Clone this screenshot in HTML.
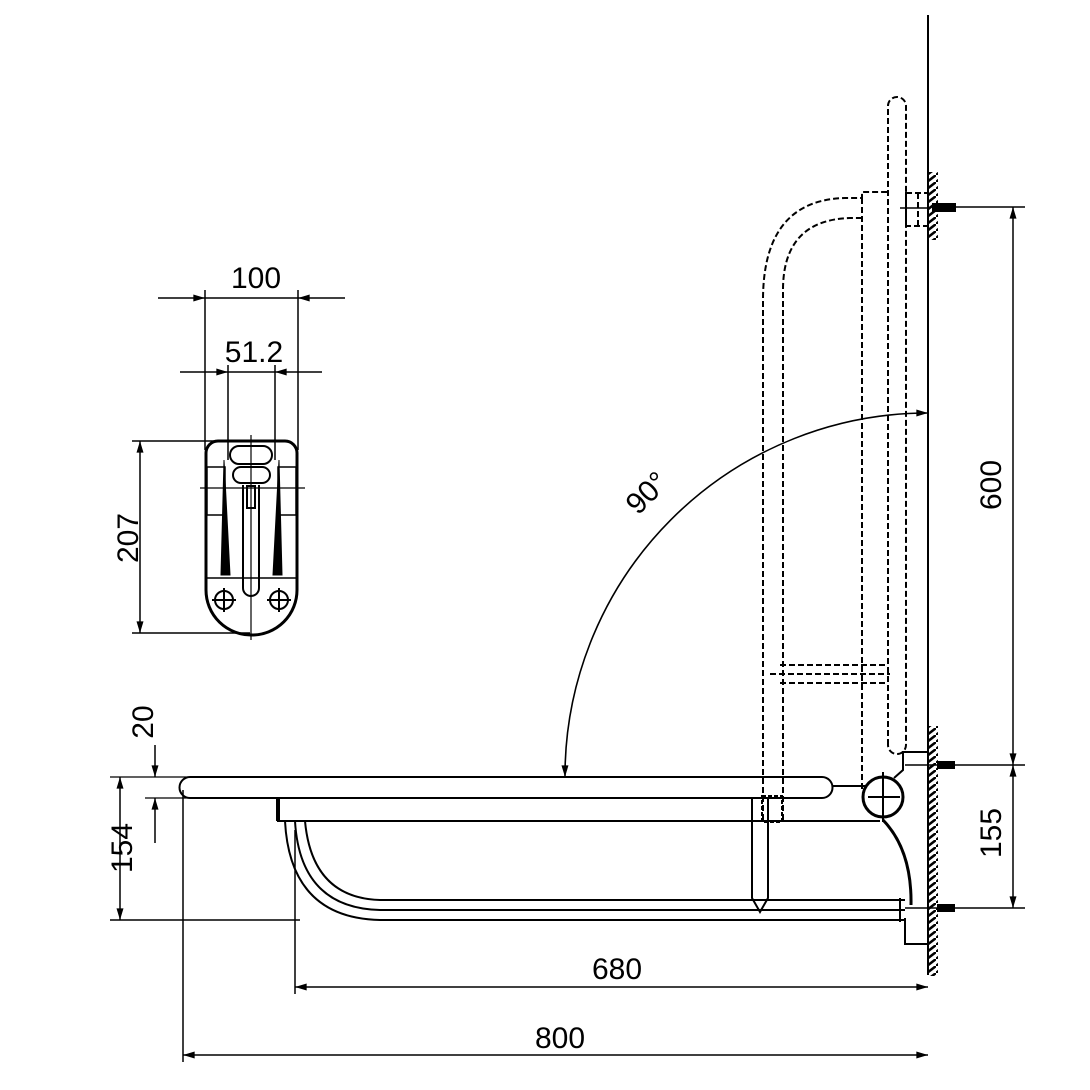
<!DOCTYPE html>
<html><head><meta charset="utf-8"><style>html,body{margin:0;padding:0;background:#fff}svg{display:block}</style></head>
<body>
<svg width="1090" height="1090" viewBox="0 0 1090 1090" xmlns="http://www.w3.org/2000/svg" font-family="Liberation Sans, sans-serif">
<defs>
<marker id="a" viewBox="0 0 10 6" refX="10" refY="3" markerWidth="16" markerHeight="7" markerUnits="userSpaceOnUse" orient="auto-start-reverse"><path d="M0,0L10,3L0,6z" fill="#000"/></marker>
<pattern id="h" width="9" height="7" patternUnits="userSpaceOnUse"><path d="M0,7L9,0" stroke="#000" stroke-width="2.5"/></pattern>
</defs>
<g stroke="#000" fill="none" stroke-width="2">
<line x1="928" y1="15" x2="928" y2="975"/>
<rect x="929" y="172" width="9" height="68" fill="url(#h)" stroke="none"/>
<rect x="929" y="726" width="9" height="250" fill="url(#h)" stroke="none"/>

<g stroke-dasharray="6,3">
<path d="M888,745 L888,106 A9,9 0 0 1 906,106 L906,745 A9,9 0 0 1 888,745"/>
<path d="M763,820 L763,300 Q763,200 845,198 L862,198 L862,192 L888,192"/>
<path d="M783,820 L783,290 Q783,220 850,218 L862,218"/>
<line x1="862" y1="198" x2="862" y2="790"/>
<path d="M780,665 L888,665 M780,683 L888,683 M770,674 L890,674"/>
<rect x="906" y="193" width="22" height="33"/>
<line x1="918" y1="193" x2="918" y2="226"/>
</g>
<line x1="900" y1="208" x2="928" y2="208" stroke-width="1.5"/>
<rect x="933" y="204" width="22" height="7" fill="#000"/>
<line x1="955" y1="207" x2="1025" y2="207" stroke-width="1.5"/>

<path d="M190,777 L822,777 A10.5,10.5 0 0 1 822,798 L190,798 A10.5,10.5 0 0 1 190,777"/>
<line x1="110" y1="777" x2="190" y2="777" stroke-width="1.3"/>
<line x1="833" y1="786" x2="865" y2="786"/>
<path d="M278,798 L278,821 L880,821"/>
<line x1="278" y1="798" x2="278" y2="821" stroke-width="4"/>
<path d="M285,821 Q290,918 380,920 L905,920"/>
<path d="M295,821 Q300,908 380,910 L905,910"/>
<path d="M305,821 Q312,898 380,900 L905,900"/>
<line x1="900" y1="898" x2="900" y2="922"/>
<path d="M752,797 L752,898 L760,912 L768,898 L768,797"/>
<rect x="762" y="796" width="20" height="26" stroke-dasharray="4,2"/>
<circle cx="883" cy="797" r="20" stroke-width="3"/>
<line x1="868" y1="797" x2="900" y2="797"/>
<line x1="883" y1="772" x2="883" y2="822"/>
<path d="M883,820 Q912,850 911,905" stroke-width="3"/>
<path d="M894,778 L903,770 L903,752 L928,752"/>
<path d="M905,918 L905,944 L928,944"/>
<line x1="905" y1="765" x2="1025" y2="765" stroke-width="1.5"/>
<rect x="938" y="762" width="16" height="6" fill="#000"/>
<line x1="905" y1="908" x2="1025" y2="908" stroke-width="1.5"/>
<rect x="938" y="905" width="16" height="6" fill="#000"/>

<path d="M928,413 A363,363 0 0 0 565,777" stroke-width="1.6" marker-start="url(#a)" marker-end="url(#a)"/>

<line x1="1013" y1="207" x2="1013" y2="765" stroke-width="1.5" marker-start="url(#a)" marker-end="url(#a)"/>
<line x1="1013" y1="765" x2="1013" y2="908" stroke-width="1.5" marker-start="url(#a)" marker-end="url(#a)"/>

<line x1="183" y1="790" x2="183" y2="1062" stroke-width="1.5"/>
<line x1="295" y1="830" x2="295" y2="994" stroke-width="1.5"/>
<line x1="295" y1="987" x2="928" y2="987" stroke-width="1.5" marker-start="url(#a)" marker-end="url(#a)"/>
<line x1="183" y1="1055" x2="928" y2="1055" stroke-width="1.5" marker-start="url(#a)" marker-end="url(#a)"/>

<line x1="110" y1="920" x2="300" y2="920" stroke-width="1.5"/>
<line x1="120" y1="777" x2="120" y2="920" stroke-width="1.5" marker-start="url(#a)" marker-end="url(#a)"/>
<line x1="145" y1="798" x2="190" y2="798" stroke-width="1.3"/>
<line x1="155" y1="745" x2="155" y2="777" stroke-width="1.5" marker-end="url(#a)"/>
<line x1="155" y1="843" x2="155" y2="798" stroke-width="1.5" marker-end="url(#a)"/>

<g stroke-width="1.5">
<line x1="205" y1="290" x2="205" y2="450"/>
<line x1="298" y1="290" x2="298" y2="450"/>
<line x1="158" y1="298" x2="205" y2="298" marker-end="url(#a)"/>
<line x1="345" y1="298" x2="298" y2="298" marker-end="url(#a)"/>
<line x1="205" y1="298" x2="298" y2="298"/>
<line x1="228" y1="365" x2="228" y2="460"/>
<line x1="275" y1="365" x2="275" y2="460"/>
<line x1="180" y1="372" x2="228" y2="372" marker-end="url(#a)"/>
<line x1="322" y1="372" x2="275" y2="372" marker-end="url(#a)"/>
<line x1="228" y1="372" x2="275" y2="372"/>
<line x1="132" y1="441" x2="250" y2="441"/>
<line x1="132" y1="633" x2="250" y2="633"/>
<line x1="140" y1="441" x2="140" y2="633" marker-start="url(#a)" marker-end="url(#a)"/>
</g>
<path d="M218,441 L285,441 A12,12 0 0 1 297,453 L297,590 A45,45 0 0 1 252,635 A45,45 0 0 1 206,590 L206,453 A12,12 0 0 1 218,441 Z" stroke-width="3"/>
<rect x="230" y="446" width="42" height="18" rx="9"/>
<rect x="233" y="467" width="37" height="16" rx="8"/>
<path d="M243,485 L243,588 A8,8 0 0 0 259,588 L259,485"/>
<rect x="247" y="486" width="8" height="22"/>
<path d="M207,467 L225,467 L225,515 L207,515 Z M278,467 L296,467 L296,515 L278,515 Z" stroke-width="1.5"/>
<path d="M224,460 L230,575 L221,575 Z M279,460 L273,575 L282,575 Z" fill="#000" stroke-width="1"/>
<line x1="206" y1="578" x2="297" y2="578" stroke-width="1.5"/>
<circle cx="224" cy="600" r="9"/><path d="M212,600h24M224,588v24"/>
<circle cx="279" cy="600" r="9"/><path d="M267,600h24M279,588v24"/>
<line x1="251" y1="435" x2="251" y2="640" stroke-width="1.2"/>
<line x1="200" y1="488" x2="305" y2="488" stroke-width="1.2"/>
</g>

<g font-size="30" fill="#000" text-anchor="middle">
<text x="256" y="288">100</text>
<text x="254" y="362">51.2</text>
<text x="560" y="1048">800</text>
<text x="617" y="979">680</text>
<text transform="translate(138,538) rotate(-90)">207</text>
<text transform="translate(132,848) rotate(-90)">154</text>
<text transform="translate(153,722) rotate(-90)">20</text>
<text transform="translate(1001,485) rotate(-90)">600</text>
<text transform="translate(1001,833) rotate(-90)">155</text>
<text transform="translate(654,500) rotate(-45)">90°</text>
</g>
</svg>
</body></html>
